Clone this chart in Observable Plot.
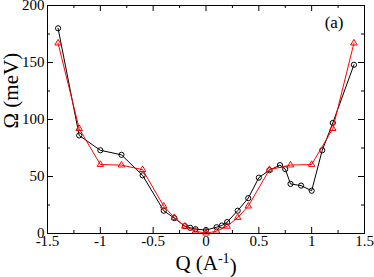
<!DOCTYPE html>
<html>
<head>
<meta charset="utf-8">
<script src="https://cdn.jsdelivr.net/npm/d3@7"></script>
<script src="https://cdn.jsdelivr.net/npm/@observablehq/plot@0.6"></script>
<style>
  html, body { margin: 0; padding: 0; background: #fff; }
</style>
</head>
<body>
<div id="chart"></div>
<script>
// Black circles series
const circleQ = [-1.4, -1.2, -1.0, -0.8, -0.6, -0.4, -0.3, -0.2, -0.15, -0.1, 0, 0.1, 0.15, 0.2, 0.3, 0.4, 0.5, 0.6, 0.7, 0.75, 0.8, 0.9, 1.0, 1.1, 1.2, 1.4];
const circleOmega = [180, 86, 73, 69, 51, 20, 13.5, 6.5, 5, 3.8, 3, 5.5, 7, 10, 20, 31, 49, 55.5, 60, 56.5, 43.5, 42, 37.5, 73, 97, 148];
// Red triangles series
const triQ = [-1.4, -1.2, -1.0, -0.8, -0.6, -0.4, -0.3, -0.2, -0.1, 0, 0.1, 0.2, 0.3, 0.4, 0.6, 0.8, 1.0, 1.2, 1.4];
const triOmega = [167, 92, 60.5, 60, 56, 24, 14, 6.3, 2, 0.3, 2, 6.3, 14, 24, 56, 60, 60.5, 92, 167];
// Axis ticks
const xMajor = [-1.5, -1, -0.5, 0, 0.5, 1, 1.5];
const xMinor = [-1.25, -0.75, -0.25, 0.25, 0.75, 1.25];
const yMajor = [0, 50, 100, 150, 200];
const yMinor = [25, 75, 125, 175];
const xTitle = "Q (A-1)";
const yTitle = "Ω (meV)";
const panelLabel = "(a)";

const circles = circleQ.map((q, i) => ({q, w: circleOmega[i]}));
const tris = triQ.map((q, i) => ({q, w: triOmega[i]}));

const W = 374, H = 277;
const mL = 47, mR = 10, mT = 5, mB = 44;
const pw = W - mL - mR, ph = H - mT - mB;
const major = 6, minor = 3;

const chart = Plot.plot({
  width: W, height: H,
  marginLeft: mL, marginRight: mR, marginTop: mT, marginBottom: mB,
  style: {fontFamily: "'Liberation Serif', serif", fontSize: "15px", background: "#fff", color: "#000"},
  x: {domain: [-1.5, 1.5]},
  y: {domain: [0, 200]},
  marks: [
    Plot.axisX({ticks: xMajor, tickSize: 0, tickPadding: 2, tickFormat: d => String(d), label: null, fontSize: 15}),
    Plot.axisY({ticks: yMajor, tickSize: 0, tickPadding: 3, tickFormat: d => String(d), label: null, fontSize: 15}),
    // inward ticks bottom/top
    Plot.tickX(xMajor, {x: d => d, insetTop: ph - major, stroke: "#000"}),
    Plot.tickX(xMajor, {x: d => d, insetBottom: ph - major, stroke: "#000"}),
    Plot.tickX(xMinor, {x: d => d, insetTop: ph - minor, stroke: "#000"}),
    Plot.tickX(xMinor, {x: d => d, insetBottom: ph - minor, stroke: "#000"}),
    // inward ticks left/right
    Plot.tickY(yMajor, {y: d => d, insetRight: pw - major, stroke: "#000"}),
    Plot.tickY(yMajor, {y: d => d, insetLeft: pw - major, stroke: "#000"}),
    Plot.tickY(yMinor, {y: d => d, insetRight: pw - minor, stroke: "#000"}),
    Plot.tickY(yMinor, {y: d => d, insetLeft: pw - minor, stroke: "#000"}),
    // series
    Plot.line(circles, {x: "q", y: "w", stroke: "#000", strokeWidth: 1}),
    Plot.dot(circles, {x: "q", y: "w", r: 2.6, stroke: "#000", fill: "none", strokeWidth: 1}),
    Plot.line(tris, {x: "q", y: "w", stroke: "#ff0000", strokeWidth: 1}),
    Plot.dot(tris, {x: "q", y: "w", symbol: "triangle", r: 2.4, stroke: "#ff0000", fill: "none", strokeWidth: 1}),
    Plot.frame({stroke: "#000", strokeWidth: 1}),
    // titles
    Plot.text([panelLabel], {frameAnchor: "top-right", dx: -21, dy: 10, fontSize: 17, fill: "#000"}),
    Plot.text([yTitle], {frameAnchor: "left", rotate: -90, dx: -36, dy: 9, fontSize: 21, fill: "#000"}),
    Plot.text([xTitle], {frameAnchor: "bottom", dy: 36, fontSize: 21, fill: "#000"})
  ]
});

// superscript in x title
d3.select(chart).selectAll("text").each(function() {
  if (this.textContent === xTitle) {
    const t = d3.select(this);
    t.text(null);
    t.append("tspan").text("Q (A");
    t.append("tspan").attr("dy", "-0.45em").attr("font-size", "14px").text("-1");
    t.append("tspan").attr("dy", "0.45em").text(")");
  }
});

document.getElementById("chart").appendChild(chart);
</script>
</body>
</html>
